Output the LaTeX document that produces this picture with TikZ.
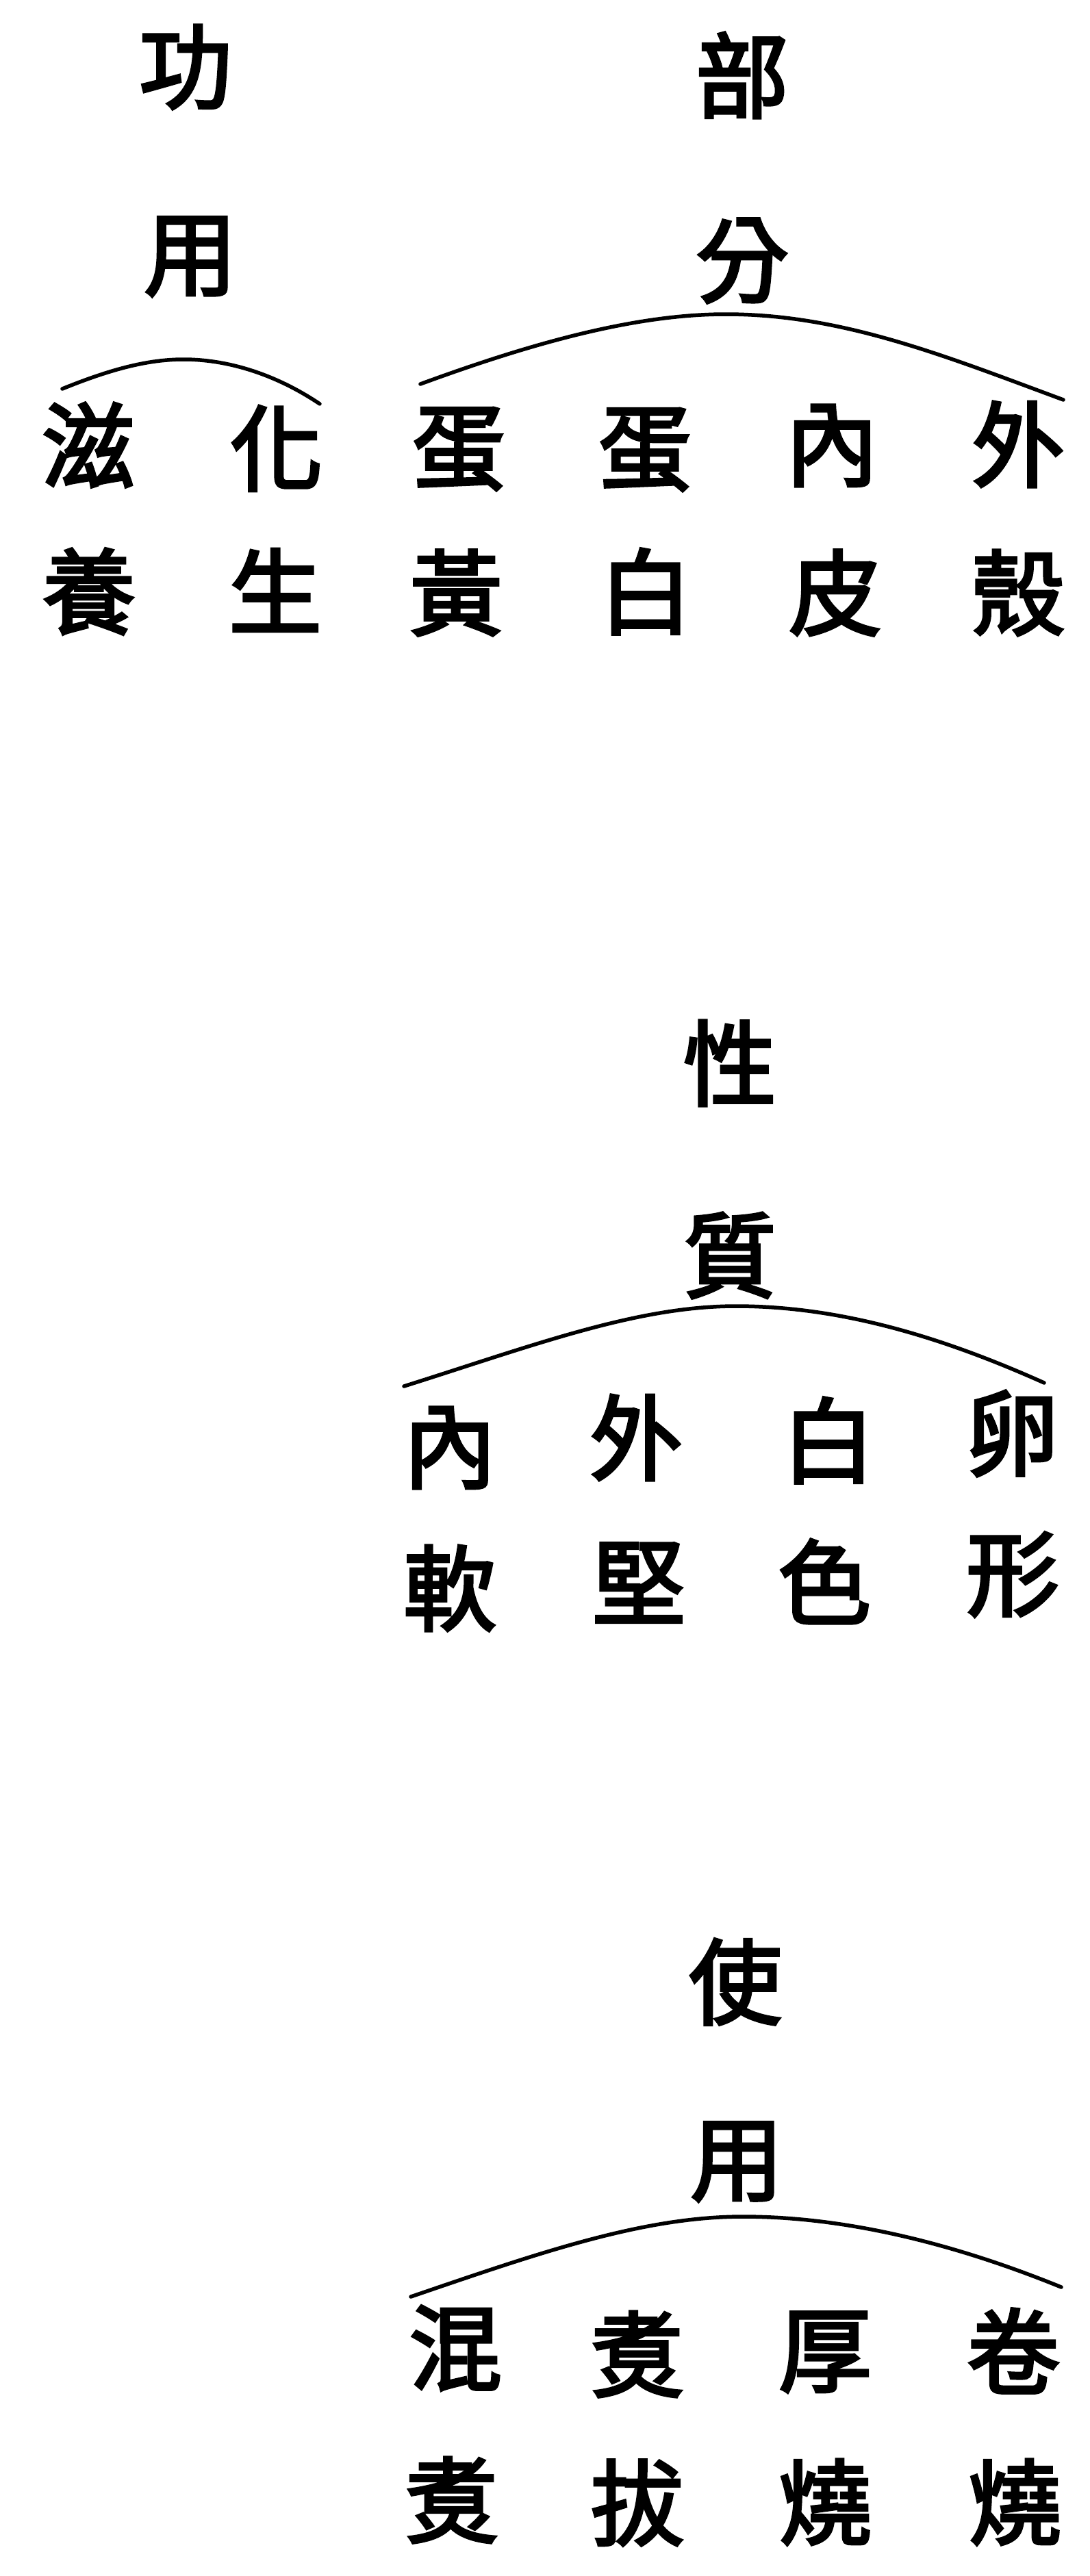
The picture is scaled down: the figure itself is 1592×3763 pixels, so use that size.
\documentclass[tikz,border=0pt]{standalone}
\usepackage{fontspec}
\newfontfamily\cjk{Noto Sans CJK TC}[FakeBold=3]
\begin{document}
\begin{tikzpicture}[x=1pt,y=-1pt,
  ch/.style={inner sep=0pt, outer sep=0pt, font=\cjk\fontsize{136}{136}\selectfont, text=black},
  brace/.style={draw=black, line width=5.5pt, line cap=round}]
\useasboundingbox[fill=white] (0,0) rectangle (1592,3763);

% ---------- Section 1: 功用 ----------
\node[ch] (gong) at (271,98) {功};
\node[ch] (yong1) at (278,375) {用};
\node[ch] (zi) at (129,650) {滋};
\node[ch] (hua) at (404,655) {化};
\node[ch] (yang) at (130,864) {養};
\node[ch] (sheng) at (402,862) {生};
\coordinate (a1l) at (91,568);
\coordinate (a1p) at (268,525);
\coordinate (a1r) at (467,590);
\draw[brace] (a1l) .. controls (160,540) and (215,525) .. (a1p)
  .. controls (330,525) and (400,545) .. (a1r);

% ---------- Section 1: 部分 ----------
\node[ch] (bu) at (1084,110) {部};
\node[ch] (fen) at (1084,381) {分};
\node[ch] (dan1) at (670,656) {蛋};
\node[ch] (dan2) at (942,657) {蛋};
\node[ch] (nei1) at (1215,651) {內};
\node[ch] (wai1) at (1487,649) {外};
\node[ch] (huang) at (666,866) {黃};
\node[ch] (bai1) at (943,864) {白};
\node[ch] (pi) at (1220,866) {皮};
\node[ch] (ke) at (1487,866) {殼};
\coordinate (a2l) at (614,561);
\coordinate (a2p) at (1060,459);
\coordinate (a2r) at (1553,584);
\draw[brace] (a2l) .. controls (780,500) and (930,459) .. (a2p)
  .. controls (1230,459) and (1380,520) .. (a2r);

% ---------- Section 2: 性質 ----------
\node[ch] (xing) at (1066,1553) {性};
\node[ch] (zhi) at (1066,1834) {質};
\node[ch] (nei2) at (657,2115) {內};
\node[ch] (wai2) at (929,2100) {外};
\node[ch] (bai2) at (1210,2104) {白};
\node[ch] (luan) at (1478,2094) {卵};
\node[ch] (ruan) at (657,2320) {軟};
\node[ch] (jian) at (933,2312) {堅};
\node[ch] (se) at (1204,2310) {色};
\node[ch] (xingz) at (1479,2300) {形};
\coordinate (a3l) at (590,2025);
\coordinate (a3p) at (1075,1908);
\coordinate (a3r) at (1525,2020);
\draw[brace] (a3l) .. controls (780,1965) and (930,1908) .. (a3p)
  .. controls (1230,1908) and (1380,1955) .. (a3r);

% ---------- Section 3: 使用 ----------
\node[ch] (shi) at (1074,2895) {使};
\node[ch] (yong2) at (1076,3158) {用};
\node[ch] (hun) at (665,3430) {混};
\node[ch] (zhu1) at (931,3439) {煑};
\node[ch] (hou) at (1205,3436) {厚};
\node[ch] (juan) at (1480,3434) {卷};
\node[ch] (zhu2) at (660,3652) {煑};
\node[ch] (ba) at (931,3656) {拔};
\node[ch] (shao1) at (1205,3655) {燒};
\node[ch] (shao2) at (1482,3655) {燒};
\coordinate (a4l) at (600,3355);
\coordinate (a4p) at (1085,3238);
\coordinate (a4r) at (1550,3341);
\draw[brace] (a4l) .. controls (790,3290) and (940,3238) .. (a4p)
  .. controls (1240,3238) and (1400,3280) .. (a4r);
\end{tikzpicture}
\end{document}
